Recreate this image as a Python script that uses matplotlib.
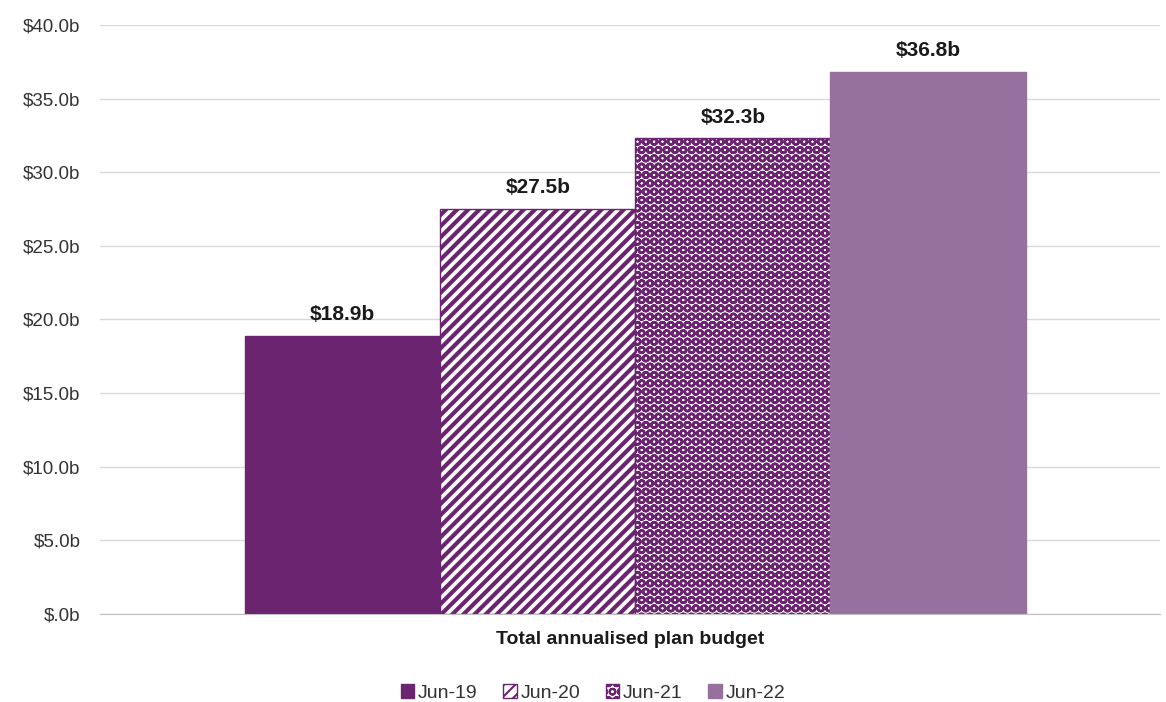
import matplotlib.pyplot as plt
import matplotlib as mpl

plt.rcParams['font.family'] = ['Liberation Sans', 'DejaVu Sans']

category = "Total annualised plan budget"
series = ['Jun-19', 'Jun-20', 'Jun-21', 'Jun-22']
values = [18.9, 27.5, 32.3, 36.8]
labels = ['$18.9b', '$27.5b', '$32.3b', '$36.8b']

purple = '#6B2570'
light = '#97719E'

fig = plt.figure(figsize=(11.66, 7.02), dpi=100)
ax = fig.add_axes([0.0858, 0.1254, 0.9092, 0.839])

w = 0.184
offsets = [-1.5 * w, -0.5 * w, 0.5 * w, 1.5 * w]
styles = [
    dict(color=purple, edgecolor=purple),
    dict(facecolor='white', edgecolor=purple, hatch='///'),
    dict(facecolor='white', edgecolor=purple, hatch='OO'),
    dict(color=light, edgecolor=light),
]
hatch_lw = [1.0, 3.0, 1.8, 1.0]

handles = []
for s, v, lab, off, st, hl in zip(series, values, labels, offsets, styles, hatch_lw):
    with mpl.rc_context({'hatch.linewidth': hl}):
        b = ax.bar(0.005 + off, v, width=w, linewidth=1, label=s, **st)
    handles.append(b)
    ax.text(0.005 + off, v + 0.8, lab, ha='center', va='bottom',
            fontsize=15, fontweight='bold', color='#1a1a1a')

ax.set_xlim(-0.5, 0.5)
ax.set_ylim(0, 40)
ax.set_yticks(range(0, 41, 5))
ax.set_yticklabels(['$.0b'] + [f'${v}.0b' for v in range(5, 41, 5)])
ax.yaxis.grid(True, color='#D9D9D9', linewidth=1)
ax.set_axisbelow(True)
for sp in ['top', 'right', 'left']:
    ax.spines[sp].set_visible(False)
ax.spines['bottom'].set_color('#BFBFBF')
ax.tick_params(axis='y', length=0, labelsize=13.5, colors='#333333', pad=14)
ax.set_xticks([0])
ax.set_xticklabels([category], fontsize=14, fontweight='bold')
ax.tick_params(axis='x', length=0, pad=12, colors='#1a1a1a')

with mpl.rc_context({'hatch.linewidth': 1.5}):
    ax.legend(handles=handles, loc='upper center', bbox_to_anchor=(0.465, -0.09),
              ncol=4, frameon=False, fontsize=14, handlelength=0.7, handleheight=0.7,
              handletextpad=0.2, columnspacing=1.3, labelcolor='#333333')

fig.savefig('out.png', dpi=100)
